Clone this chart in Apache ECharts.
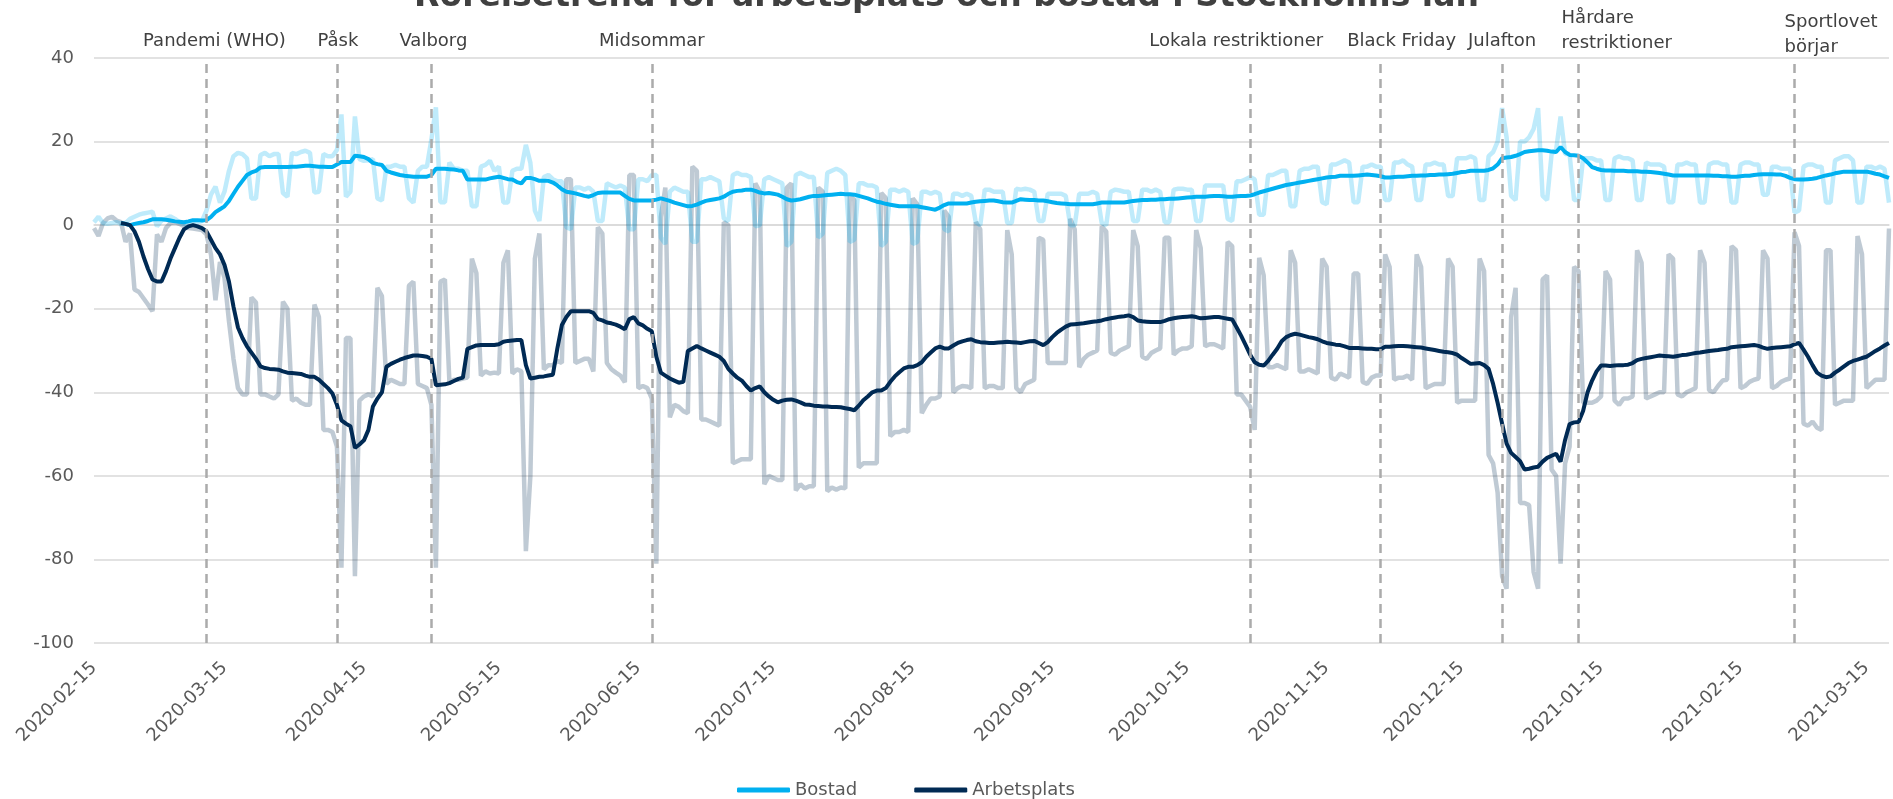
<!DOCTYPE html>
<html>
<head>
<meta charset="utf-8">
<title>Rörelsetrend för arbetsplats och bostad i Stockholms län</title>
<script src="https://cdn.jsdelivr.net/npm/echarts@6/dist/echarts.min.js"></script>
<style>
  html, body { margin: 0; padding: 0; background: #fff; }
  #main { width: 1893px; height: 799px; }
</style>
</head>
<body>
<div id="main"></div>
<script>
// one value per day, first day below, rows are Sat..Fri weeks
const startDate = '2020-02-15'

const arbetsplatsDaily = [
  -0.7, -2.6, 0.5, 1.6, 2, 1.1, 0.7,
  -4, -2, -15.4, -16, -17.5, -19, -20.6,
  -2.2, -4, -0.7, 0.5, 0.7, 0.3, -0.3,
  -0.7, -0.8, -1, -1.2, -2.2, -7, -18,
  -8.8, -12.6, -23, -32, -39, -40.5, -40.5,
  -17.3, -18.5, -40.5, -40.5, -41, -41.5, -40.5,
  -18.3, -20, -42, -41.5, -42.5, -43, -43,
  -19, -22, -49, -49, -49.5, -53, -82,
  -27, -27, -84, -42, -41, -40.5, -41,
  -15, -17, -38, -37, -37.5, -38, -38,
  -14.5, -13.5, -38, -38.5, -39, -43, -82,
  -13.5, -13, -37.5, -37, -37, -36.7, -36.5,
  -8, -11.5, -36, -35, -35.5, -35.3, -35.5,
  -9, -6, -35.5, -34.5, -35, -78, -60,
  -8, -2, -34.5, -33.5, -33.5, -32.5, -33,
  11, 11, -33, -32.5, -32, -32, -35,
  -0.5, -2, -33, -34.5, -35.3, -36, -37.6,
  12, 12, -39, -38.5, -39, -41.5, -81,
  2, 9, -46, -43, -43.5, -44.5, -45,
  14, 13, -46.5, -46.5, -47, -47.5, -48,
  0.7, 0, -57, -56.5, -56, -56, -56,
  10, 8, -62, -60, -60.5, -61, -61,
  9, 10, -63.5, -62, -63, -62.5, -62.5,
  9, 8, -63.7, -62.8, -63.3, -62.8, -63,
  7.3, 6, -58, -57, -57, -57, -57,
  7.7, 6.5, -50.5, -49.5, -49.5, -49, -49.5,
  6.4, 5, -45, -43, -41.5, -41.5, -41,
  3.5, 2, -40, -39, -38.5, -38.6, -39,
  0.7, -1, -39, -38.5, -38.5, -39, -39,
  -1.2, -7, -39, -40, -38, -37.5, -37,
  -3, -3.5, -33, -33, -33, -33, -33,
  1.5, -1, -34, -32, -31, -30.5, -30,
  -0.3, -1.5, -30.6, -31, -30, -29.5, -29,
  -1.2, -5, -31.5, -32, -30.6, -30, -29.5,
  -3, -3, -31, -30, -29.5, -29.5, -29,
  -1.2, -5.5, -29, -28.5, -28.5, -29, -29.5,
  -4, -5, -40.5, -40.5, -42, -43.5, -49,
  -7.8, -12, -34, -34, -33.5, -34, -34.5,
  -6, -9, -35, -35, -34.5, -35, -35.5,
  -8, -10, -36.5, -37, -35.5, -36, -36.5,
  -11.6, -11.6, -37.5, -38, -36.5, -36, -36,
  -7, -10, -37, -36.5, -36.5, -36, -37,
  -7, -10, -39, -38.5, -38, -38, -38,
  -8, -10, -42.5, -42, -42, -42, -42,
  -8, -11, -55, -57, -64, -84, -87,
  -22, -15, -66.5, -66.5, -67, -83, -87,
  -13, -12, -58.5, -60, -81, -57, -53,
  -10, -11, -42.5, -42.5, -42.5, -42, -41,
  -11, -13, -42, -43, -41.5, -41.5, -41,
  -6, -9, -41.5, -41, -40.5, -40, -40,
  -7, -8, -40.5, -41, -40, -39.5, -39,
  -6, -9, -39.5, -40, -38.5, -37.2, -37,
  -5, -6, -39, -38.5, -37.5, -37, -36.7,
  -6, -8, -39, -38.5, -37.5, -37, -36.7,
  -1.7, -5, -47.5, -48, -47, -48.5, -49,
  -6, -6, -43, -42.5, -42, -42, -42,
  -2.6, -7, -39, -38, -37, -37, -37,
  -0.8
]

const bostadDaily = [
  0.7, 2, 0.5, 0.3, 0.5, 0.7, 0.3,
  0.5, 1.5, 2, 2.5, 2.8, 3, 3.2,
  -0.3, 1.1, 1.6, 2.1, 1.5, 0.7, 0.2,
  0.3, 0.5, 0.7, 1, 3.5, 7.3, 9.2,
  5.4, 8, 13, 16.5, 17.3, 17, 16,
  6.4, 6.4, 16.8, 17.3, 16.5, 17, 17,
  7.7, 6.8, 17.3, 17, 17.5, 17.8, 17.3,
  7.8, 8, 17, 16.5, 16.5, 18, 26.5,
  6.8, 8, 26, 15.8, 15.4, 15.5, 15.8,
  6.4, 5.9, 14, 14, 14.4, 14, 14,
  6.4, 5.4, 13, 14, 14, 20.5, 28.2,
  5.5, 5.5, 15, 13.5, 13.5, 13, 13,
  4.5, 4.5, 14, 14.4, 15.4, 13, 14,
  5.4, 5.4, 13, 13.5, 13.5, 19.2, 14.9,
  3.5, 1, 11.5, 12, 11, 10.5, 10.5,
  -0.5, -1, 9, 9, 8.5, 9, 8,
  1, 1, 10, 9.5, 9, 9.5, 9,
  -1, -1, 11, 11, 10.5, 12, 12,
  -3, -4.5, 8, 9, 8.5, 8, 8,
  -4, -4, 11, 11, 11.5, 11, 10.5,
  1.6, 1, 12, 12.5, 12, 12, 11.5,
  -0.3, 0, 11, 11.5, 11, 10.5, 10,
  -5, -4, 12, 12.5, 12, 11.5, 11.5,
  -3, -2, 12.5, 13, 13.5, 13, 12,
  -4, -3.5, 10, 10, 9.5, 9.5, 9,
  -5, -4, 8.5, 8.5, 8, 8.5, 8,
  -4.5, -4, 8, 8, 7.5, 8, 7.5,
  -1, -1.5, 7.5, 7.5, 7, 7.5, 7,
  0.7, 0, 8.5, 8.5, 8, 8, 8,
  0.5, 0.5, 8.7, 8.5, 8.7, 8.5, 8,
  1, 1, 7.5, 7.5, 7.5, 7.5, 7,
  0, 0, 7.5, 7.5, 7.5, 8, 7.5,
  0.5, 0, 8, 8.5, 8.3, 8, 8,
  1, 1, 8.5, 8.5, 8, 8.5, 8,
  0.7, 0.7, 8.5, 8.7, 8.7, 8.5, 8.5,
  1, 1, 9.5, 9.5, 9.5, 9.5, 9.5,
  1.5, 1, 10.5, 10.5, 11, 11.5, 11,
  2.5, 2.5, 12, 12, 12.5, 13, 13,
  4.5, 4.5, 13, 13.5, 13.5, 14, 14,
  5.5, 5, 14.5, 14.5, 15, 15.5, 15,
  5.5, 5.5, 14, 14, 14.5, 14, 14,
  6, 6, 15, 15, 15.5, 14.5, 14,
  6, 6, 14.5, 14.5, 15, 14.5, 14.5,
  7, 7, 16, 16, 16, 16.5, 16,
  6, 6, 16.5, 17.5, 20, 28, 21,
  7, 6, 20, 20, 21, 23, 28,
  7, 6, 17, 18, 26, 17, 17,
  6, 6, 16, 16, 16, 15.5, 15.5,
  6, 6, 16, 16.5, 16, 16, 15.5,
  6, 6, 15, 14.5, 14.5, 14.5, 14,
  5.5, 5.5, 14.5, 14.5, 15, 14.5, 14.5,
  5.4, 5.4, 14.5, 15, 15, 14.5, 14.5,
  5.4, 5.4, 14.5, 15, 15, 14.5, 14.5,
  7.3, 7.3, 14, 14, 13.5, 13.5, 13.5,
  3, 3.5, 14, 14.5, 14.5, 14, 14,
  5.4, 5.4, 15.5, 16, 16.5, 16.5, 15.5,
  5.4, 5.4, 14, 14, 13.5, 14, 13.5,
  5.4
]

// 7-day averages (first six days have none)
const arbetsplatsAvg = [
  null, null, null, null, null, null, 0.5,
  0.3, 0, -1.5, -4, -7.5, -10.5, -13,
  -13.5, -13.5, -11, -8, -5.5, -3, -1,
  -0.3, 0, -0.3, -0.7, -1.5, -3.5, -5.5,
  -7, -9.5, -13.5, -19.5, -24.5, -27, -29,
  -30.5, -32, -33.8, -34.2, -34.4, -34.5, -34.6,
  -35, -35.3, -35.4, -35.5, -35.6, -36, -36.3,
  -36.3, -37, -38, -39, -40.3, -43, -46.7,
  -47.5, -48.1, -53.3, -52.5, -51.5, -49, -43.4,
  -41.5, -40, -33.9, -33.2, -32.7, -32.2, -31.8,
  -31.5, -31.2, -31.2, -31.3, -31.5, -32, -38.3,
  -38.2, -38.1, -37.8, -37.3, -36.8, -36.5, -29.6,
  -29.2, -28.8, -28.7, -28.7, -28.7, -28.7, -28.5,
  -27.9, -27.7, -27.6, -27.5, -27.5, -33.5, -36.7,
  -36.5, -36.3, -36.2, -36, -35.8, -29.5, -23.9,
  -22, -20.6, -20.6, -20.6, -20.6, -20.6, -21,
  -22.5, -22.8, -23.3, -23.5, -23.8, -24.3, -24.9,
  -22.5, -22, -23.5, -24, -24.8, -25.4, -31.5,
  -35.3, -36, -36.7, -37.2, -37.7, -37.5, -30.1,
  -29.5, -28.9, -29.5, -30, -30.5, -31, -31.5,
  -32.5, -34.4, -35.5, -36.5, -37.2, -38.5, -39.6,
  -39, -38.6, -40, -41, -41.8, -42.4, -42,
  -41.8, -41.7, -42, -42.4, -42.9, -43, -43.2,
  -43.3, -43.4, -43.4, -43.5, -43.5, -43.6, -43.8,
  -44, -44.3, -43.2, -41.9, -41, -40, -39.6,
  -39.6, -39, -37.5, -36.2, -35.2, -34.3, -33.9,
  -33.9, -33.5, -32.8, -31.5, -30.5, -29.5, -29.1,
  -29.5, -29.5, -28.8, -28.2, -27.8, -27.5, -27.3,
  -27.8, -28, -28.1, -28.2, -28.2, -28.1, -28,
  -27.9, -28, -28.1, -28.2, -28, -27.8, -27.7,
  -28.2, -28.7, -28, -26.8, -25.8, -25, -24.3,
  -23.8, -23.7, -23.6, -23.5, -23.3, -23.1, -23,
  -22.8, -22.5, -22.3, -22.1, -21.9, -21.8, -21.6,
  -22, -22.8, -23, -23.1, -23.2, -23.2, -23.2,
  -22.9, -22.5, -22.3, -22.1, -22, -21.9, -21.8,
  -22, -22.3, -22.2, -22.1, -22, -22, -22.2,
  -22.4, -22.6, -24.5, -26.5, -28.7, -31, -32.8,
  -33.4, -33.6, -32.5, -31, -29.6, -27.8, -26.8,
  -26.3, -26, -26.2, -26.5, -26.8, -27, -27.3,
  -27.8, -28.2, -28.4, -28.6, -28.7, -29, -29.4,
  -29.4, -29.4, -29.5, -29.6, -29.6, -29.7, -29.7,
  -29.1, -29.1, -29, -28.9, -28.9, -29, -29.1,
  -29.2, -29.3, -29.5, -29.7, -29.9, -30.1, -30.3,
  -30.4, -30.6, -31, -31.8, -32.5, -33.2, -33.1,
  -33, -33.5, -34.4, -38, -42.5, -47.5, -52.3,
  -54.5, -55.5, -56.5, -58.5, -58.3, -58, -57.8,
  -56.6, -55.7, -55.2, -54.7, -56.6, -51.4, -47.6,
  -47.2, -47.1, -44.5, -40, -37.2, -35, -33.6,
  -33.6, -33.7, -33.6, -33.5, -33.5, -33.4, -33,
  -32.3, -32, -31.8, -31.6, -31.4, -31.2, -31.3,
  -31.4, -31.5, -31.3, -31.1, -31, -30.8, -30.6,
  -30.5, -30.3, -30.1, -30, -29.9, -29.7, -29.6,
  -29.2, -29.1, -29, -28.9, -28.8, -28.7, -28.9,
  -29.3, -29.6, -29.4, -29.3, -29.2, -29.1, -29,
  -28.5, -28.2, -29.8, -31.5, -33.5, -35.3, -36,
  -36.4, -36.2, -35.3, -34.6, -33.8, -33, -32.5,
  -32.2, -31.8, -31.5, -30.8, -30.1, -29.5, -28.8,
  -28.2
]

const bostadAvg = [
  null, null, null, null, null, null, 0.5,
  0.3, 0, 0.3, 0.5, 0.7, 1, 1.4,
  1.4, 1.4, 1.3, 1.1, 0.9, 0.8, 0.7,
  0.9, 1.2, 1.2, 1.1, 1.2, 2, 3.1,
  3.8, 4.5, 5.8, 7.5, 9.2, 10.6, 12,
  12.6, 13, 13.8, 13.9, 13.9, 13.9, 13.9,
  13.9, 13.9, 14, 14, 14.1, 14.2, 14.2,
  14.1, 14, 14, 13.9, 13.9, 14.5, 15.1,
  15.1, 15.1, 16.6, 16.5, 16.3, 15.8, 14.9,
  14.6, 14.4, 13, 12.6, 12.3, 12, 11.8,
  11.7, 11.6, 11.6, 11.6, 11.6, 12, 13.5,
  13.5, 13.5, 13.4, 13.3, 13.1, 13, 10.9,
  10.9, 10.9, 10.9, 10.9, 11.2, 11.4, 11.6,
  11.3, 11, 10.9, 10.3, 10, 11.3, 11.3,
  11, 10.6, 10.6, 10.6, 10.2, 9.5, 8.6,
  8, 7.8, 7.6, 7.3, 7, 6.8, 7.2,
  7.7, 7.8, 7.8, 7.8, 7.8, 7.8, 7,
  6.3, 5.9, 5.9, 5.9, 5.9, 5.9, 6.1,
  6.4, 6.1, 5.8, 5.4, 5.1, 4.8, 4.5,
  4.6, 4.9, 5.4, 5.8, 6, 6.2, 6.4,
  6.8, 7.5, 8, 8.2, 8.3, 8.5, 8.5,
  8.2, 7.8, 7.6, 7.7, 7.5, 7.3, 6.8,
  6.2, 5.9, 6, 6.2, 6.5, 6.8, 7,
  7, 7.1, 7.2, 7.3, 7.4, 7.5, 7.4,
  7.4, 7.3, 7, 6.7, 6.4, 6, 5.6,
  5.4, 5.1, 4.9, 4.7, 4.5, 4.5, 4.5,
  4.5, 4.5, 4.3, 4.1, 3.9, 3.7, 4.2,
  4.8, 5.2, 5.2, 5.2, 5.2, 5.2, 5.4,
  5.6, 5.7, 5.8, 5.9, 5.9, 5.7, 5.5,
  5.4, 5.4, 5.8, 6.2, 6.1, 6, 6,
  5.9, 5.9, 5.7, 5.5, 5.3, 5.2, 5.1,
  5, 5, 5, 5, 5, 5, 5.2,
  5.4, 5.4, 5.4, 5.4, 5.4, 5.4, 5.6,
  5.8, 5.9, 6, 6, 6.1, 6.1, 6.2,
  6.2, 6.3, 6.3, 6.4, 6.5, 6.6, 6.7,
  6.8, 6.8, 6.8, 6.9, 7, 7, 6.9,
  6.8, 6.8, 6.9, 7, 7, 7.1, 7.4,
  7.8, 8.1, 8.4, 8.7, 9, 9.3, 9.6,
  9.8, 10, 10.2, 10.4, 10.6, 10.8, 11,
  11.2, 11.4, 11.5, 11.6, 11.8, 11.8, 11.8,
  11.8, 11.9, 12, 12.1, 12, 11.9, 11.7,
  11.4, 11.4, 11.5, 11.6, 11.6, 11.7, 11.8,
  11.8, 11.9, 11.9, 12, 12, 12.1, 12.1,
  12.2, 12.3, 12.5, 12.7, 12.8, 13, 13,
  13, 13, 13.2, 13.6, 14.5, 16, 16.2,
  16.3, 16.6, 17, 17.5, 17.7, 17.8, 17.9,
  17.9, 17.8, 17.6, 17.5, 18.7, 17.5, 16.8,
  16.7, 16.6, 16, 15, 13.9, 13.5, 13.2,
  13.1, 13.1, 13, 13, 13, 12.9, 12.9,
  12.9, 12.8, 12.8, 12.7, 12.6, 12.5, 12.3,
  12.1, 11.9, 11.9, 11.9, 11.9, 11.9, 11.9,
  11.9, 11.9, 11.9, 11.8, 11.8, 11.7, 11.7,
  11.6, 11.6, 11.7, 11.8, 11.8, 12, 12.1,
  12.2, 12.2, 12.2, 12.1, 12.1, 11.8, 11.3,
  11, 10.9, 10.9, 11, 11.1, 11.3, 11.6,
  11.9, 12.1, 12.4, 12.6, 12.8, 12.8, 12.8,
  12.8, 12.8, 12.8, 12.6, 12.3, 12.1, 11.7,
  11.3
]

// dates that get a label on the x axis
const tickDates = [
  '2020-02-15', '2020-03-15', '2020-04-15', '2020-05-15', '2020-06-15',
  '2020-07-15', '2020-08-15', '2020-09-15', '2020-10-15', '2020-11-15',
  '2020-12-15', '2021-01-15', '2021-02-15', '2021-03-15'
]

const eventDates = [
  '2020-03-11', '2020-04-09', '2020-04-30', '2020-06-18', '2020-10-29',
  '2020-11-27', '2020-12-24', '2021-01-10', '2021-02-27'
]
const eventLabels = [
  'Pandemi (WHO)', 'Påsk', 'Valborg', 'Midsommar', 'Lokala restriktioner',
  'Black Friday', 'Julafton', 'Hårdare\nrestriktioner', 'Sportlovet\nbörjar'
]
// where each event label sits relative to its line
const eventLabelPlace = [
  { dx: 8, y: 41, align: 'center' },
  { dx: 1, y: 41, align: 'center' },
  { dx: 2, y: 41, align: 'center' },
  { dx: 0, y: 41, align: 'center' },
  { dx: -14, y: 41, align: 'center' },
  { dx: 21, y: 41, align: 'center' },
  { dx: 0, y: 41, align: 'center' },
  { dx: -17, y: 31, align: 'left' },
  { dx: -10, y: 35, align: 'left' }
]

function dayList(start, n) {
  const out = []
  const t0 = Date.parse(start + 'T00:00:00Z')
  for (let i = 0; i < n; i++) {
    out.push(new Date(t0 + i * 86400000).toISOString().slice(0, 10))
  }
  return out
}

const days = dayList(startDate, bostadDaily.length)
const font = 'DejaVu Sans'
const textGrey = '#595959'
const cyan = '#00b0f0'
const navy = '#002a54'

const chart = echarts.init(document.getElementById('main'), null, { renderer: 'canvas' })

const option = {
  animation: false,
  backgroundColor: '#ffffff',
  textStyle: { fontFamily: font },
  title: {
    text: 'Rörelsetrend för arbetsplats och bostad i Stockholms län',
    left: 'center',
    top: -24,
    textStyle: { fontFamily: font, fontSize: 33, fontWeight: 'bold', color: '#404040' }
  },
  legend: {
    data: ['Bostad', 'Arbetsplats'],
    left: 732,
    top: 776,
    icon: 'roundRect',
    itemWidth: 53,
    itemHeight: 5,
    itemGap: 57,
    textStyle: { fontFamily: font, fontSize: 18, color: textGrey }
  },
  grid: { left: 94, right: 4, top: 58, bottom: 156, containLabel: false },
  xAxis: {
    type: 'category',
    data: days,
    boundaryGap: false,
    axisLine: { lineStyle: { color: '#d9d9d9', width: 1.5 } },
    axisTick: { show: false },
    axisLabel: {
      interval: function (idx, value) { return tickDates.indexOf(value) >= 0 },
      rotate: 45,
      margin: 22,
      fontFamily: font,
      fontSize: 18,
      color: textGrey
    },
    splitLine: { show: false }
  },
  yAxis: {
    type: 'value',
    min: -100,
    max: 40,
    interval: 20,
    axisLine: { show: false },
    axisTick: { show: false },
    axisLabel: { fontFamily: font, fontSize: 18, color: textGrey, margin: 20 },
    splitLine: { lineStyle: { color: '#d9d9d9', width: 1.5 } }
  },
  series: [
    {
      name: 'Arbetsplats dag',
      type: 'line',
      data: arbetsplatsDaily,
      symbol: 'none',
      silent: true,
      color: navy,
      lineStyle: { color: navy, width: 4.5, opacity: 0.25 },
      markLine: {
        silent: true,
        symbol: ['none', 'none'],
        label: { show: false },
        lineStyle: { color: '#ababab', width: 2.5, type: [9, 6] },
        data: eventDates.map(function (d) { return { xAxis: d } })
      }
    },
    {
      name: 'Bostad dag',
      type: 'line',
      data: bostadDaily,
      symbol: 'none',
      silent: true,
      color: cyan,
      lineStyle: { color: cyan, width: 4.5, opacity: 0.25 }
    },
    {
      name: 'Bostad',
      type: 'line',
      data: bostadAvg,
      symbol: 'none',
      silent: true,
      color: cyan,
      lineStyle: { color: cyan, width: 4 }
    },
    {
      name: 'Arbetsplats',
      type: 'line',
      data: arbetsplatsAvg,
      symbol: 'none',
      silent: true,
      color: navy,
      lineStyle: { color: navy, width: 4 }
    }
  ]
}

chart.setOption(option)

// event names above the dashed lines
const labelTexts = eventDates.map(function (d, i) {
  const x = chart.convertToPixel({ xAxisIndex: 0 }, d)
  const place = eventLabelPlace[i]
  return {
    type: 'text',
    x: x + place.dx,
    y: place.y,
    silent: true,
    style: {
      text: eventLabels[i],
      fill: '#404040',
      fontFamily: font,
      fontSize: 18,
      lineHeight: 25,
      align: place.align,
      verticalAlign: 'middle'
    }
  }
})
chart.setOption({ graphic: labelTexts })
</script>
</body>
</html>
